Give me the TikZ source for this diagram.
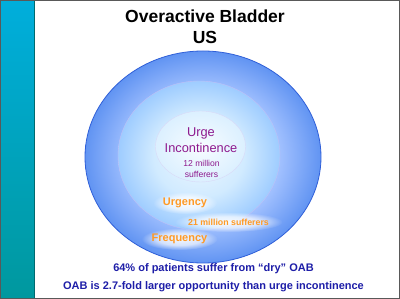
\documentclass[tikz,border=0pt]{standalone}
\usepackage{fontspec}
\setmainfont{Liberation Sans}
\usetikzlibrary{fadings}
\definecolor{barTop}{HTML}{00AEDC}
\definecolor{barBot}{HTML}{00989E}
\definecolor{outerEdge}{HTML}{2F5FD8}
\definecolor{purp}{HTML}{8E1A8E}
\definecolor{orng}{HTML}{FF9A26}
\definecolor{navy}{HTML}{1E1EA8}
\pgfdeclareradialshading{outerShade}{\pgfpoint{0bp}{0bp}}{%
  rgb(0bp)=(0.80,0.89,1.0); rgb(16bp)=(0.64,0.76,1.0); rgb(25bp)=(0.38,0.58,0.95); rgb(50bp)=(0.38,0.58,0.95)}
\pgfdeclareradialshading{midShade}{\pgfpoint{0bp}{0bp}}{%
  rgb(0bp)=(0.93,0.97,1.0); rgb(14bp)=(0.82,0.92,1.0); rgb(25bp)=(0.62,0.80,1.0); rgb(50bp)=(0.62,0.80,1.0)}
\pgfdeclareradialshading{innShade}{\pgfpoint{0bp}{0bp}}{%
  rgb(0bp)=(0.97,0.99,1.0); rgb(25bp)=(0.86,0.94,1.0); rgb(50bp)=(0.86,0.94,1.0)}
\pgfdeclareradialshading{glowfade}{\pgfpoint{0bp}{0bp}}{%
  color(0bp)=(pgftransparent!0); color(14bp)=(pgftransparent!25); color(25bp)=(pgftransparent!100); color(50bp)=(pgftransparent!100)}
\pgfdeclarefading{softglow}{\pgfuseshading{glowfade}}
\tikzset{
  title/.style={font=\bfseries\fontsize{17.5}{20}\selectfont, text=black, inner sep=0},
  purptxt/.style={text=purp, inner sep=0, align=center},
  orangetxt/.style={text=orng, inner sep=0},
  halo/.style={fill=white, fill opacity=0.9, path fading=softglow},
  bottomtxt/.style={text=navy, font=\bfseries\fontsize{11}{13}\selectfont, inner sep=0}
}
\begin{document}
\begin{tikzpicture}[x=1pt,y=-1pt]
\useasboundingbox (0,0) rectangle (400,299);
\fill[white] (0,0) rectangle (400,299);
% left bar
\shade[top color=barTop, bottom color=barBot] (0,0) rectangle (34,299);
\draw[barBot!70!black, line width=0.8pt] (34,0) -- (34,299);
% frame
\draw[gray!70!black, line width=1pt] (0.5,0.5) rectangle (399.5,298.5);
% ellipses
\shade[shading=outerShade] (203,157) ellipse [x radius=118, y radius=106];
\draw[outerEdge, line width=0.8pt] (203,157) ellipse [x radius=118, y radius=106];
\shade[shading=midShade] (199,155.5) ellipse [x radius=81, y radius=74.5];
\draw[black!15!blue!25, line width=0.4pt] (199,155.5) ellipse [x radius=81, y radius=74.5];
\shade[shading=innShade] (200.5,146.5) ellipse [x radius=45, y radius=35.5];
\draw[black!20!blue!15, line width=0.4pt] (200.5,146.5) ellipse [x radius=45, y radius=35.5];
% soft glow behind orange labels
\fill[halo] (185,203) ellipse [x radius=32, y radius=11];
\fill[halo] (228.5,222) ellipse [x radius=54, y radius=10];
\fill[halo] (179.5,239) ellipse [x radius=38, y radius=11];
% titles
\node[title] (t1) at (205,16) {Overactive Bladder};
\node[title] (t2) at (205,37) {US};
% inner text
\node[purptxt, font=\fontsize{12.8}{14}\selectfont] (urge) at (201,133) {Urge};
\node[purptxt, font=\fontsize{12.8}{14}\selectfont] (inc) at (201,148) {Incontinence};
\node[purptxt, font=\fontsize{8.6}{10}\selectfont] (m12) at (201.5,163) {12 million};
\node[purptxt, font=\fontsize{8.6}{10}\selectfont] (suf) at (201.5,174) {sufferers};
% orange labels
\node[orangetxt, font=\bfseries\fontsize{11}{13}\selectfont] (urg) at (185,203) {Urgency};
\node[orangetxt, font=\bfseries\fontsize{8.8}{10}\selectfont] (m21) at (228.5,222) {21 million sufferers};
\node[orangetxt, font=\bfseries\fontsize{11}{13}\selectfont] (freq) at (179.5,239) {Frequency};
% bottom text
\node[bottomtxt] (b1) at (213.5,269) {64\% of patients suffer from “dry” OAB};
\node[bottomtxt] (b2) at (213.5,287) {OAB is 2.7-fold larger opportunity than urge incontinence};
\end{tikzpicture}
\end{document}
